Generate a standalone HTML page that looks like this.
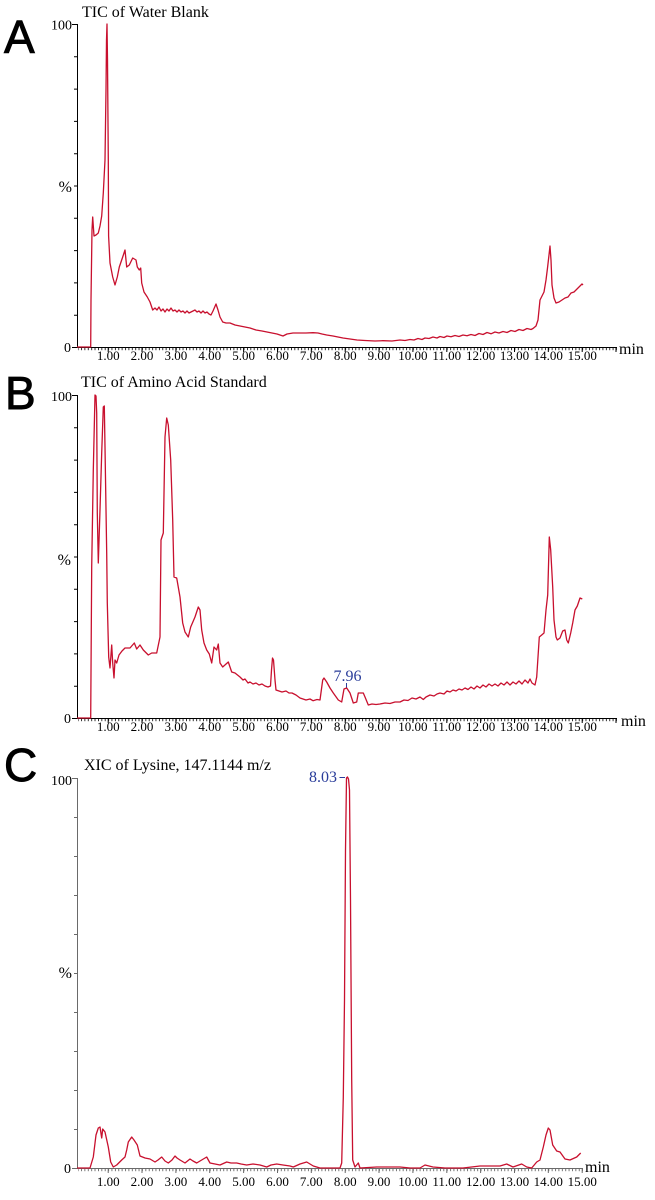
<!DOCTYPE html>
<html>
<head>
<meta charset="utf-8">
<style>
html,body{margin:0;padding:0;background:#fff;}
svg{display:block;}
.t{font-family:"Liberation Serif",serif;fill:#000;}
.big{font-family:"Liberation Sans",sans-serif;font-size:46px;fill:#000;stroke:#000;stroke-width:0.9;}
.tr{fill:none;stroke:#c8102e;stroke-width:1.3;stroke-linejoin:round;}
.ax{stroke:#000;stroke-width:1;fill:none;}
.axc{stroke:#6a6a6a;stroke-width:1;fill:none;}
.bl{font-family:"Liberation Serif",serif;fill:#2a3d9a;font-size:16px;}
</style>
</head>
<body>
<svg width="655" height="1200" viewBox="0 0 655 1200" xmlns="http://www.w3.org/2000/svg">
<defs>
<pattern id="mt" x="74.3" y="0" width="3.386" height="10" patternUnits="userSpaceOnUse">
<rect x="0" y="0" width="0.8" height="10" fill="#000"/>
</pattern>
<pattern id="mtc" x="74.3" y="0" width="3.386" height="10" patternUnits="userSpaceOnUse">
<rect x="0" y="0" width="0.8" height="10" fill="#555"/>
</pattern>
</defs>

<!-- Big letters -->
<text class="big" x="4" y="53">A</text>
<text class="big" x="5" y="409">B</text>
<text class="big" x="4" y="781">C</text>

<!-- ================= PANEL A ================= -->
<text class="t" x="82" y="17" font-size="16">TIC of Water Blank</text>
<text class="t" x="72" y="29.5" font-size="14" text-anchor="end">100</text>
<text class="t" x="71" y="352" font-size="14" text-anchor="end">0</text>
<text class="t" x="72" y="192" font-size="16" text-anchor="end">%</text>
<path class="ax" d="M77.5 24 V347.5 H617"/>
<path class="ax" d="M72 24.5 H77.5 M72 347.5 H77.5 M74 56.8 H77.5 M74 89.1 H77.5 M74 121.4 H77.5 M74 153.7 H77.5 M74 186 H77.5 M74 218.3 H77.5 M74 250.6 H77.5 M74 282.9 H77.5 M74 315.2 H77.5"/>
<rect x="78" y="348" width="539" height="2.2" fill="url(#mt)"/>
<path class="ax" d="M108.2 348 v4 M142 348 v4 M175.9 348 v4 M209.7 348 v4 M243.6 348 v4 M277.5 348 v4 M311.3 348 v4 M345.2 348 v4 M379 348 v4 M412.9 348 v4 M446.8 348 v4 M480.6 348 v4 M514.5 348 v4 M548.3 348 v4 M582.2 348 v4 M616 348 v4"/>
<g class="t" font-size="13" text-anchor="middle">
<text x="108.2" y="360">1.00</text><text x="142" y="360">2.00</text><text x="175.9" y="360">3.00</text><text x="209.7" y="360">4.00</text><text x="243.6" y="360">5.00</text><text x="277.5" y="360">6.00</text><text x="311.3" y="360">7.00</text><text x="345.2" y="360">8.00</text><text x="379" y="360">9.00</text><text x="412.9" y="360">10.00</text><text x="446.8" y="360">11.00</text><text x="480.6" y="360">12.00</text><text x="514.5" y="360">13.00</text><text x="548.3" y="360">14.00</text><text x="582.2" y="360">15.00</text>
</g>
<text class="t" x="619" y="354" font-size="16">min</text>
<polyline class="tr" points="77,347 90.7,347 91,300 92,230 92.7,217 94,236 96,235 98.3,233 100,226 101.7,216 103.3,193 105,160 106,90 106.5,40 107,24 107.5,60 108.3,160 108.6,236 110,263 112.7,277 115,285 117.3,277 119.3,267 122.7,257 125,250 126.7,267 129.3,265 132.7,258 136,260 137.3,267 139.3,270 140.7,268 141.7,283 144,292 147.3,297 150,302 152.7,310 155,308 157,310 159,307 161,311 163,309 165,312 167,309 169,311 171,308 173,311 175,310 177,312 179,310 181,312 183,311 185,313 187,311 189,313 191,312 193,311 195,310 197,312 199,311 201,313 203,311 205,313 207,312 209,314 211,315 213,311 216,304 218,310 220,317 222.7,322 226,323 230,323 235,325 240,326 245,327 250,328 256,330 262,331 267,332 272,333 277,334 280,335 283,336 287,334 293,333 300,333 306,333 313,332.7 318,333 322,334 326.7,335 333,336 338,337 343,338 350,339 357,340 365,340.5 375,341 383,340.7 392,341 400,340 405,340.5 410,339.5 414,340 418,338.5 422,339.5 425,338 429,338.5 433,337 437,338 440,336.5 444,337.5 447,336 451,336.8 455,335.5 459,336.5 463,335 467,335.8 471,334.5 475,335.5 479,333.5 483,334.5 487,332.5 491,333.8 495,332 499,333 503,331.5 507,332.5 511,330.5 515,331.5 519,329.5 523,330.5 527,328.5 531,329.5 533,328.5 536,326 538,320 540,300 542,296 544,292 546,280 547.5,268 549,255 550,246 551,260 552,285 554,298 556,303 559,302 562,300 565,298 568,297 571,293 574,292 577,289 580,286 582,284 583,285"/>

<!-- ================= PANEL B ================= -->
<text class="t" x="81" y="387" font-size="16">TIC of Amino Acid Standard</text>
<text class="t" x="72" y="401" font-size="14" text-anchor="end">100</text>
<text class="t" x="71" y="723" font-size="14" text-anchor="end">0</text>
<text class="t" x="71" y="565" font-size="16" text-anchor="end">%</text>
<path class="ax" d="M77.5 395 V718.5 H617"/>
<path class="ax" d="M72 395.5 H77.5 M72 718.5 H77.5 M74 427.8 H77.5 M74 460.1 H77.5 M74 492.4 H77.5 M74 524.7 H77.5 M74 557 H77.5 M74 589.3 H77.5 M74 621.6 H77.5 M74 653.9 H77.5 M74 686.2 H77.5"/>
<rect x="78" y="719" width="539" height="2.2" fill="url(#mt)"/>
<path class="ax" d="M108.2 719 v4 M142 719 v4 M175.9 719 v4 M209.7 719 v4 M243.6 719 v4 M277.5 719 v4 M311.3 719 v4 M345.2 719 v4 M379 719 v4 M412.9 719 v4 M446.8 719 v4 M480.6 719 v4 M514.5 719 v4 M548.3 719 v4 M582.2 719 v4 M616 719 v4"/>
<g class="t" font-size="13" text-anchor="middle">
<text x="108.2" y="731">1.00</text><text x="142" y="731">2.00</text><text x="175.9" y="731">3.00</text><text x="209.7" y="731">4.00</text><text x="243.6" y="731">5.00</text><text x="277.5" y="731">6.00</text><text x="311.3" y="731">7.00</text><text x="345.2" y="731">8.00</text><text x="379" y="731">9.00</text><text x="412.9" y="731">10.00</text><text x="446.8" y="731">11.00</text><text x="480.6" y="731">12.00</text><text x="514.5" y="731">13.00</text><text x="548.3" y="731">14.00</text><text x="582.2" y="731">15.00</text>
</g>
<text class="t" x="621" y="726" font-size="16">min</text>
<polyline class="tr" points="77,718 90.5,718 90.7,718 91.7,567 93.3,470 95,395 96,396 96.7,413 97.3,513 98.3,563 100,510 101.7,453 103.3,407 104.3,406 105,447 106.7,553 107.3,603 108.7,657 110,668 111.7,645 112.7,663 114,678 115,660 116.7,663 119,655 122,651 125,648 130,648 134.3,643 136.7,649 140,645 143.3,650 148.3,655 151.7,653 156.7,653 160,637 161,540 163.3,533 165,437 166.7,418 168.3,425 170.7,460 172.7,520 174,577 176.7,578 180,597 182.7,623 185,632 188.3,637 190.7,627 195,617 198.3,607 200,610 201.7,630 204,643 206.7,650 209.3,654 211.7,663 214,647 216.7,650 218.3,644 220,663 222.7,667 228.3,662 231.7,672 235,673 240,677 243,680 245,679 248,683 250,682 253,684 256,683 259,685 262,684 265,686 268,687 270.5,686 271.5,670 272.5,658 273.5,660 275,680 276,690 279,691 282,692 286,691 289,693 292,693 296,695 300,698 303,699 306,700 310,699 313,700.7 317,699.5 320,700 322.7,680 324,678 326.7,682 330,688 333.3,693 338.3,700 341.7,702 344,689 346.7,688 350,693 353.3,703 356.7,702 358.3,693 363.3,693 365,697 368.3,705 372,704 376,704.5 380,704 385,703 390,703.5 395,702 400,702 404,700 408,700.5 412,698 416,699 420,697 423.3,699.5 426,697 430,695 434,696 437,694 440,693 444,694 447,691 450,692 453,690 456,691 459,689 462,690 465,688 468,689.5 471,687 474,689 477,686 480,688 483,685 486,687 489,684 492,686 495,684 498,686 501,683 504,685 507,682 510,685 513,682 516,684 519,681 522,684 525,680 528,683 530,679 532,683 535,685 536.7,677 539.3,637 541.7,635 544,633 546,610 547.7,595 549.3,537 550.7,550 552.7,587 554,620 556,637 557.3,640 560,638 562.7,631 565,630 566.7,640 568.3,643 570.7,633 572.7,623 575,610 577.3,606 580,598 582.3,599"/>
<text class="bl" x="347.5" y="681" text-anchor="middle">7.96</text>
<path d="M346.5 683 V687.5" stroke="#2a3d9a" stroke-width="1" fill="none"/>

<!-- ================= PANEL C ================= -->
<text class="t" x="84" y="770" font-size="16">XIC of Lysine, 147.1144 m/z</text>
<text class="t" x="72" y="785" font-size="14" text-anchor="end">100</text>
<text class="t" x="71" y="1173" font-size="14" text-anchor="end">0</text>
<text class="t" x="72" y="978" font-size="16" text-anchor="end">%</text>
<path class="axc" d="M77.5 778 V1168.5 H583"/>
<path class="axc" d="M72 778.5 H77.5 M72 1168.5 H77.5 M74 817.5 H77.5 M74 856.5 H77.5 M74 895.5 H77.5 M74 934.5 H77.5 M74 973.5 H77.5 M74 1012.5 H77.5 M74 1051.5 H77.5 M74 1090.5 H77.5 M74 1129.5 H77.5"/>
<rect x="78" y="1169" width="505" height="2.2" fill="url(#mtc)"/>
<path class="axc" d="M108.2 1169 v4 M142 1169 v4 M175.9 1169 v4 M209.7 1169 v4 M243.6 1169 v4 M277.5 1169 v4 M311.3 1169 v4 M345.2 1169 v4 M379 1169 v4 M412.9 1169 v4 M446.8 1169 v4 M480.6 1169 v4 M514.5 1169 v4 M548.3 1169 v4 M582.2 1169 v4"/>
<g class="t" font-size="13" text-anchor="middle">
<text x="108.2" y="1186">1.00</text><text x="142" y="1186">2.00</text><text x="175.9" y="1186">3.00</text><text x="209.7" y="1186">4.00</text><text x="243.6" y="1186">5.00</text><text x="277.5" y="1186">6.00</text><text x="311.3" y="1186">7.00</text><text x="345.2" y="1186">8.00</text><text x="379" y="1186">9.00</text><text x="412.9" y="1186">10.00</text><text x="446.8" y="1186">11.00</text><text x="480.6" y="1186">12.00</text><text x="514.5" y="1186">13.00</text><text x="548.3" y="1186">14.00</text><text x="582.2" y="1186">15.00</text>
</g>
<text class="t" x="585" y="1172" font-size="16">min</text>
<polyline class="tr" points="77,1168 90,1168 93.3,1157 96,1135 98.3,1128 100,1127 101.7,1138 102.7,1129 105,1132 108.3,1147 110.7,1162 113.3,1167 116.7,1165 121.7,1160 125,1157 126.7,1150 128.3,1142 131.7,1137 134,1140 137.3,1145 140,1156 145,1158 150,1159 155,1162 158,1160 161.7,1157 165,1161 168.3,1163 172,1160 175,1156 177,1158 180,1160 185,1163 190,1159 193,1161 196.7,1163 200,1161 206.7,1157 210,1163 215,1164 220,1165 226.7,1162 231,1163 236.7,1163 241,1164 246.7,1165 253,1164 260,1165 266.7,1167 271,1165 276.7,1164 283,1165 290,1166 293.3,1167 300,1164 306.7,1162 310,1164 313.3,1166 320,1168 330,1168 336.7,1168 340,1168 341.7,1163 343.3,1097 344.5,1000 345.5,850 346.5,778 347.5,777 348.5,779 349.5,790 350.5,900 351.7,1080 352.7,1160 355,1167 358.3,1163 360,1168 376.7,1167 390,1167 400,1167 410,1168 420,1168 425,1165 433,1167 445,1168 463,1168 480,1166 487,1166 500,1166 506.7,1164 513,1167 521.7,1164 526.7,1167 531.7,1168 536.7,1162 540,1160 543.3,1147 546,1135 548.3,1128 550,1130 552.7,1145 556.7,1151 560,1152 565,1159 570,1160 576.7,1157 580.7,1153"/>
<text class="bl" x="337" y="782" text-anchor="end">8.03</text>
<path d="M339.5 777.5 H345" stroke="#2a3d9a" stroke-width="1" fill="none"/>
</svg>
</body>
</html>
